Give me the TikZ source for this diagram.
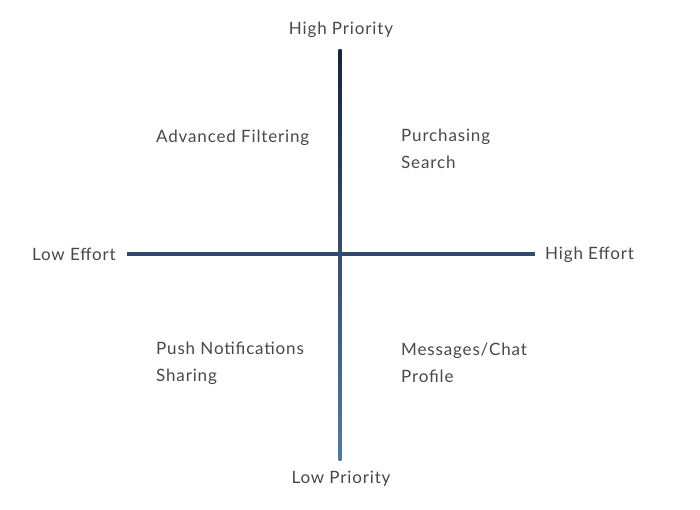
\documentclass[tikz,border=0pt]{standalone}
\usepackage{fontspec}
\setmainfont[LetterSpace=5]{Lato}
\usetikzlibrary{calc}
\definecolor{axisdark}{HTML}{16263C}
\definecolor{axislight}{HTML}{5079A6}
\definecolor{axismid}{HTML}{2F4A6C}
\definecolor{labelgray}{HTML}{484848}

\begin{document}
\begin{tikzpicture}[x=1pt,y=-1pt,
	every node/.style={text=labelgray,inner sep=0pt,font=\fontsize{17}{27}\selectfont},
	item/.style={anchor=west,align=left}]

	\useasboundingbox (0,0) rectangle (700,510);

	\coordinate (top)   at (340,50);
	\coordinate (bot)   at (340,460);
	\coordinate (left)  at (127,254);
	\coordinate (right) at (535,254);

	\shade[top color=axisdark,bottom color=axislight]
	      ($(top)+(-1.5,0)$) rectangle ($(bot)+(1.5,0)$);
	\draw[axismid,line width=3pt] (left) -- (right);

	\node (hp) at (341,30)  {High Priority};
	\node (lp) at (341,479) {Low Priority};
	\node[anchor=east] (le) at (116,254) {Low Effort};
	\node[anchor=west] (he) at (545,255) {High Effort};

	\node[item] (q1) at (156,137.5) {Advanced Filtering};
	\node[item] (q2) at (401,148.5) {Purchasing\\Search};
	\node[item] (q3) at (156,363.5) {Push Notifications\\Sharing};
	\node[item] (q4) at (401,362.5) {Messages/Chat\\Profile};
\end{tikzpicture}
\end{document}
